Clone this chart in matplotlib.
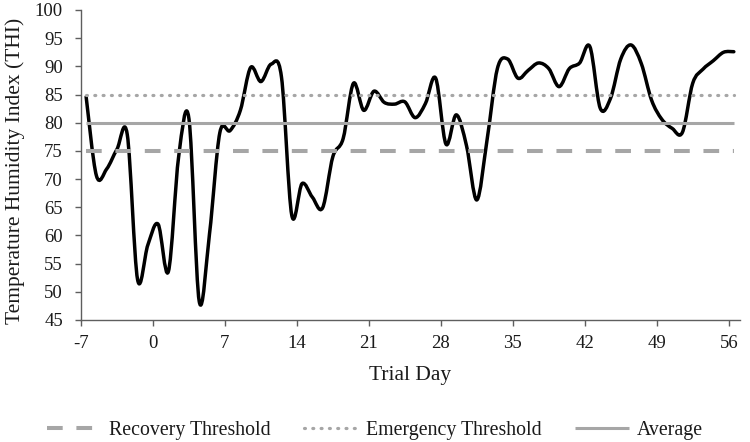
import numpy as np
import matplotlib
matplotlib.use("Agg")
import matplotlib.pyplot as plt
from matplotlib.path import Path
from matplotlib.patches import PathPatch

# ---------------- data ----------------
days = list(range(-7, 57))
thi = [84.6, 70.6, 71.8, 75.3, 77.9, 52.2, 58.3, 62.0, 53.6, 74.0,
       80.7, 48.3, 60.3, 78.2, 78.6, 82.2, 89.8, 87.3, 90.4, 88.1,
       63.6, 69.2, 66.8, 64.9, 74.0, 77.2, 87.0, 82.2, 85.6, 83.6,
       83.3, 83.7, 80.9, 83.4, 87.9, 76.2, 81.4, 75.9, 66.3, 77.0,
       89.6, 91.3, 87.9, 89.3, 90.6, 89.6, 86.4, 89.6, 90.6, 93.5,
       82.6, 84.3, 91.3, 93.8, 90.5, 84.0, 80.6, 79.0, 78.3, 87.0,
       89.5, 91.0, 92.5, 92.6]
recovery_threshold = 75
emergency_threshold = 85
average_thi = 80
x_ticks = [-7, 0, 7, 14, 21, 28, 35, 42, 49, 56]
y_ticks = list(range(45, 101, 5))
legend_labels = ["Recovery Threshold", "Emergency Threshold", "Average"]
x_title = "Trial Day"
y_title = "Temperature Humidity Index (THI)"

# ---------------- style ----------------
plt.rcParams["font.family"] = ["Liberation Serif", "DejaVu Serif"]
GRAY = "#a6a6a6"
AXC = "#5e5e5e"
TXT = "#1a1a1a"

W, H = 750, 442
fig = plt.figure(figsize=(W / 100, H / 100), dpi=100)
ax = fig.add_axes([81 / W, 1 - 320 / H, (740 - 81) / W, 310 / H])

# category centres (points sit half a day right of the tick)
x = np.array(days, dtype=float) + 0.5
y = np.array(thi, dtype=float)

# smoothed line (Catmull-Rom -> cubic Bezier) in data coordinates
pts = np.column_stack([x, y])
ext = np.vstack([pts[0], pts, pts[-1]])
verts = [tuple(pts[0])]
codes = [Path.MOVETO]
for i in range(len(pts) - 1):
    p0, p1, p2, p3 = ext[i], ext[i + 1], ext[i + 2], ext[i + 3]
    c1 = p1 + (p2 - p0) / 6.0
    c2 = p2 - (p3 - p1) / 6.0
    verts += [tuple(c1), tuple(c2), tuple(p2)]
    codes += [Path.CURVE4] * 3
ax.add_patch(PathPatch(Path(verts, codes), fill=False, edgecolor="black",
                       lw=2.5, joinstyle="round", capstyle="round", zorder=2))

xs = [x[0], x[-1]]
l1, = ax.plot(xs, [recovery_threshold] * 2, color=GRAY, lw=2.9,
              dashes=(3.9, 3.4), dash_capstyle="butt", zorder=3)
l2, = ax.plot(xs, [emergency_threshold] * 2, color=GRAY, lw=2.3,
              dashes=(0.3, 2.3), dash_capstyle="round", zorder=3)
l3, = ax.plot(xs, [average_thi] * 2, color=GRAY, lw=2.2,
              solid_capstyle="butt", zorder=3)

ax.set_xlim(-7, 57.1)
ax.set_ylim(45, 100)
ax.set_xticks(x_ticks)
ax.set_yticks(y_ticks)
ax.set_xticklabels([str(t) for t in x_ticks])
ax.set_yticklabels([str(t) for t in y_ticks])

for s in ["top", "right"]:
    ax.spines[s].set_visible(False)
for s in ["left", "bottom"]:
    ax.spines[s].set_color(AXC)
    ax.spines[s].set_linewidth(1.0)
ax.tick_params(axis="both", direction="out", length=4, width=1.0,
               color=AXC, labelcolor=TXT, labelsize=13.5)
ax.tick_params(axis="y", pad=9)
ax.tick_params(axis="x", pad=7)

ax.set_xlabel(x_title, fontsize=15.5, color=TXT)
ax.xaxis.set_label_coords(0.5, -0.18)
ax.xaxis.label.set_va("center")
ax.set_ylabel(y_title, fontsize=15.5, color=TXT)
ax.yaxis.set_label_coords(-0.1, 0.48)
ax.yaxis.label.set_va("center")

fig.legend([l1, l2, l3], legend_labels, loc="center", ncol=3,
           bbox_to_anchor=(0.5, 0.027), frameon=False, fontsize=14.3,
           handlelength=2.7, handletextpad=0.4, columnspacing=1.7,
           labelcolor=TXT)

fig.savefig("out.png", dpi=100)
